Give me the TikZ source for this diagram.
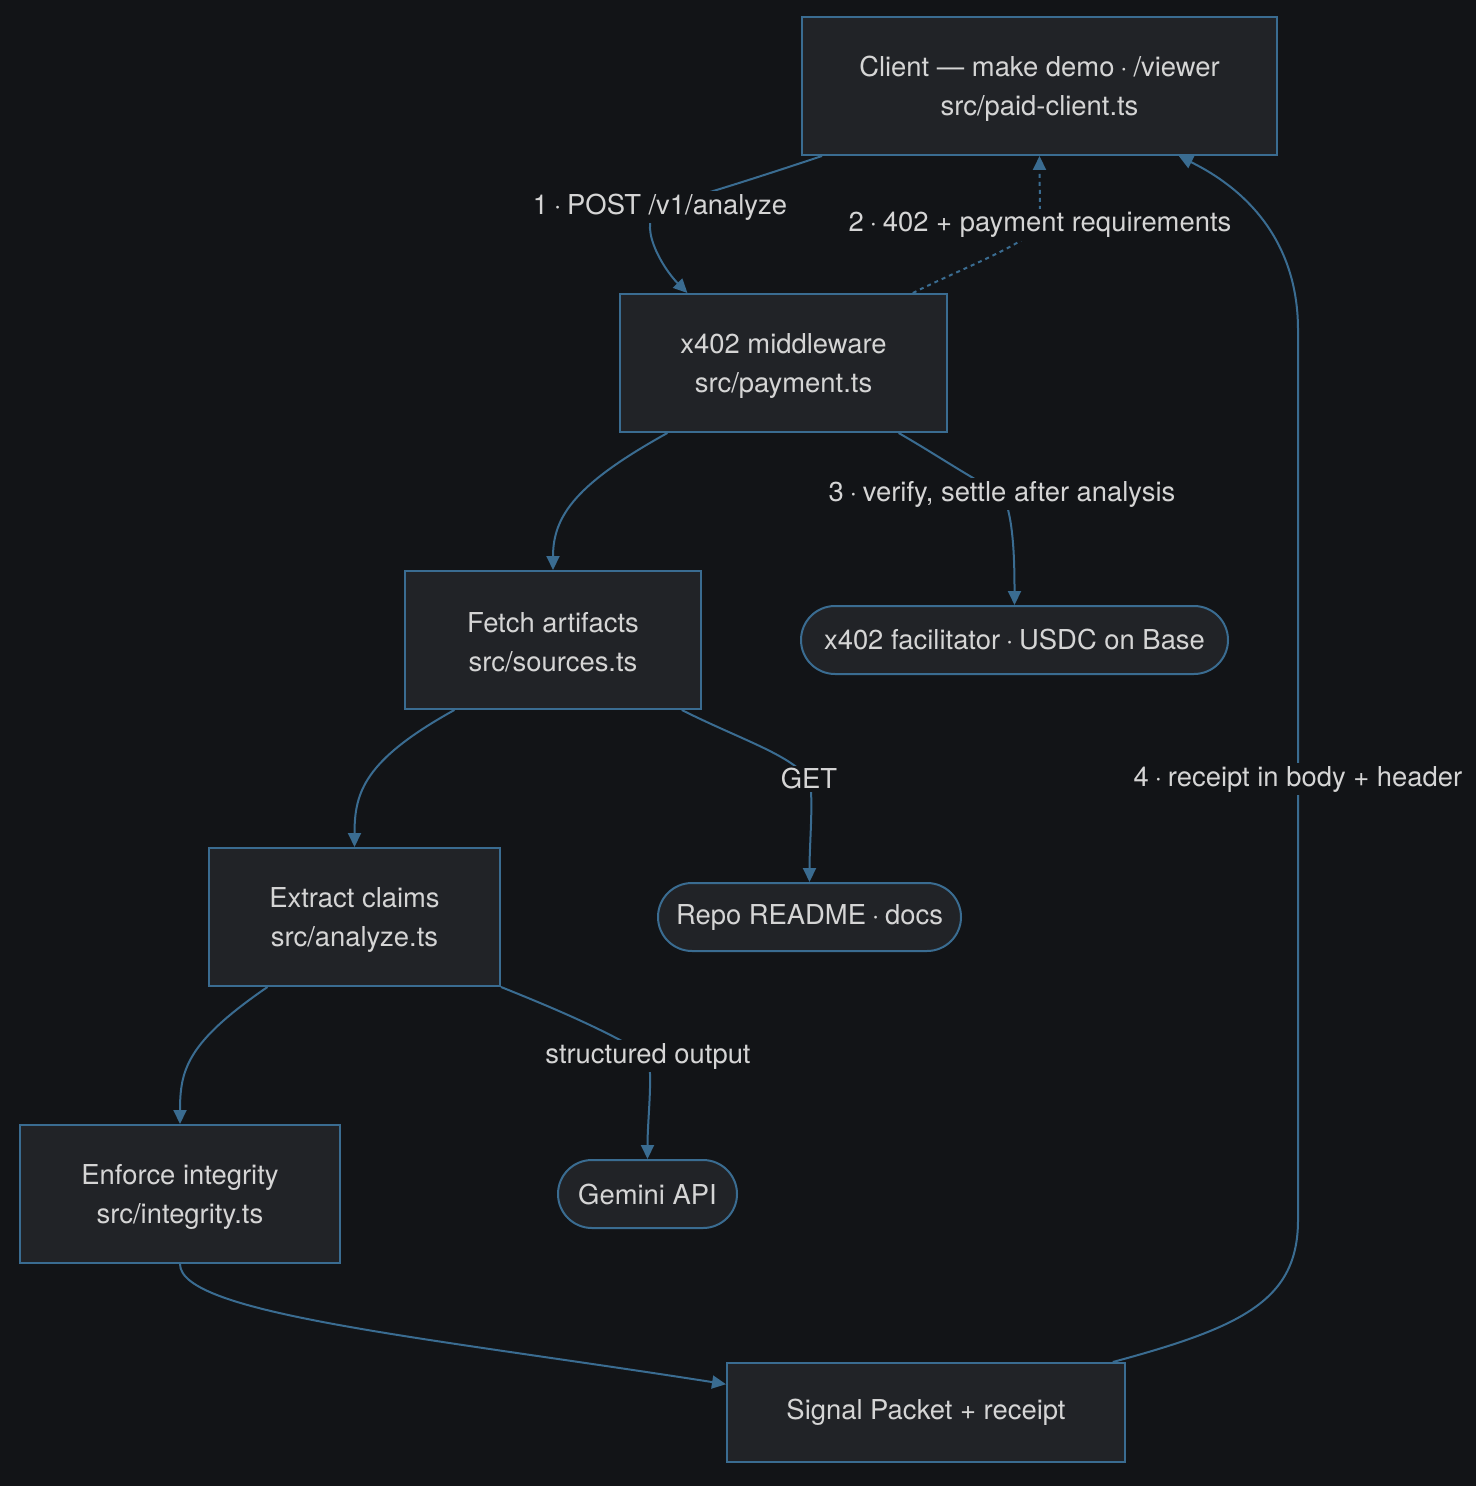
\documentclass[tikz,border=0pt]{standalone}
\usepackage{fontspec}
\setmainfont{TeX Gyre Heros}
\usetikzlibrary{arrows.meta,calc}
\definecolor{bgdark}{HTML}{121417}
\definecolor{boxfill}{HTML}{212327}
\definecolor{edgeblue}{HTML}{3A6C91}
\definecolor{txtgray}{HTML}{D5D5D5}
\newcommand\mdot{\kern-0.07em·\kern-0.07em}
\newcommand\dropln{\rule{0pt}{12.6pt}}

\begin{document}
\begin{tikzpicture}[x=0.5pt,y=-0.5pt,
	stepbox/.style={draw=edgeblue, fill=boxfill, line width=1pt, minimum height=69pt, align=center, text=txtgray, font=\fontsize{13.7}{19.5}\selectfont},
	extbox/.style={stepbox, rounded corners=17pt, minimum height=34pt},
	lbl/.style={fill=bgdark, text=txtgray, inner sep=1.5pt, font=\fontsize{13.7}{16}\selectfont},
	flow/.style={draw=edgeblue, line width=1pt, -{Triangle[length=7pt,width=6.5pt]}}]
	\fill[bgdark] (0,0) rectangle (1476,1486);
	\useasboundingbox (0,0) rectangle (1476,1486);

	\node[stepbox, minimum width=237.5pt] (client) at (1039.5,86) {\dropln Client — make demo \mdot{} /viewer\\src/paid-client.ts};
	\node[stepbox, minimum width=163.5pt] (mid) at (783.5,363) {\dropln x402 middleware\\src/payment.ts};
	\node[stepbox, minimum width=148pt] (fetch) at (553,640) {\dropln Fetch artifacts\\src/sources.ts};
	\node[stepbox, minimum width=145.5pt] (extract) at (354.5,917) {\dropln Extract claims\\src/analyze.ts};
	\node[stepbox, minimum width=160pt] (enforce) at (180,1194) {\dropln Enforce integrity\\src/integrity.ts};
	\node[stepbox, minimum width=199pt, minimum height=49.5pt] (signal) at (926,1412.5) {Signal Packet + receipt};
	\node[extbox, minimum width=213.5pt] (facil) at (1014.5,640) {x402 facilitator \mdot{} USDC on Base};
	\node[extbox, minimum width=151.5pt] (repo) at (809.5,917) {Repo README \mdot{} docs};
	\node[extbox, minimum width=89.5pt] (gemini) at (647.5,1194) {Gemini API};

	\coordinate (rbot) at (1298,1220);
	\coordinate (rtop) at (1298,330);

	\draw[flow] ($(client.south west)!0.044!(client.south east)$) .. controls +(-90,30) and +(40,-12) .. (660,207) .. controls +(-25,15) and +(-25,-25) .. ($(mid.north west)!0.208!(mid.north east)$);
	\draw[flow, dash pattern=on 2pt off 2pt] ($(mid.north west)!0.893!(mid.north east)$) .. controls +(50,-25) and +(-15,20) .. (1040,225) .. controls +(0,-25) and +(0,20) .. (client.south);
	\draw[flow] ($(mid.south west)!0.85!(mid.south east)$) .. controls +(35,20) and +(-30,-15) .. (1002,494) .. controls +(12,20) and +(0,-40) .. (facil.north);
	\draw[flow] ($(mid.south west)!0.147!(mid.south east)$) .. controls +(-90,50) and +(0,-55) .. (fetch.north);
	\draw[flow] ($(fetch.south west)!0.169!(fetch.south east)$) .. controls +(-90,50) and +(0,-55) .. (extract.north);
	\draw[flow] ($(fetch.south west)!0.932!(fetch.south east)$) .. controls +(60,30) and +(-20,-25) .. (809,779) .. controls +(5,15) and +(0,-40) .. (repo.north);
	\draw[flow] ($(extract.south west)!0.203!(extract.south east)$) .. controls +(-80,55) and +(0,-55) .. (enforce.north);
	\draw[flow] (extract.south east) .. controls +(50,20) and +(-40,-25) .. (648,1056) .. controls +(5,20) and +(0,-40) .. (gemini.north);
	\draw[flow] (enforce.south) .. controls +(0,50) and +(-300,-47) .. ($(signal.north west)!0.22!(signal.south west)$);
	\draw[flow] ($(signal.north west)!0.967!(signal.north east)$) .. controls +(130,-35) and +(0,80) .. (rbot) -- (rtop) .. controls +(0,-110) and +(40,20) .. ($(client.south west)!0.792!(client.south east)$);

	\node[lbl] (l1) at (660,207) {1 \mdot{} POST /v1/analyze};
	\node[lbl] (l2) at (1040,225) {2 \mdot{} 402 + payment requirements};
	\node[lbl] (l3) at (1002,494) {3 \mdot{} verify, settle after analysis};
	\node[lbl] (l6) at (809,779) {GET};
	\node[lbl] (l8) at (648,1056) {structured output};
	\node[lbl] (l10) at (1298,779) {4 \mdot{} receipt in body + header};
\end{tikzpicture}
\end{document}
